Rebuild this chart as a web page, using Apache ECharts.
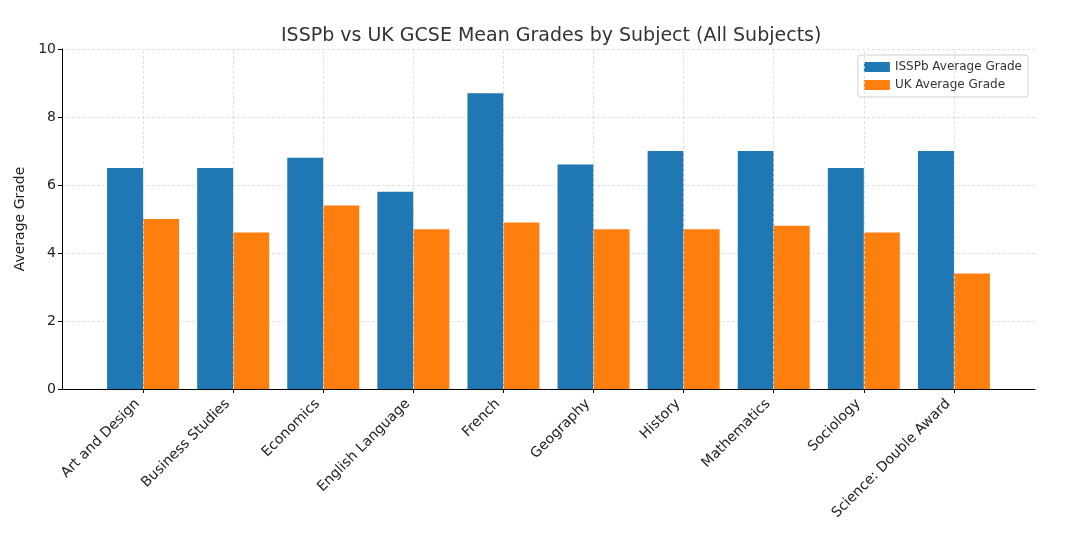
<!DOCTYPE html>
<html>
<head>
<meta charset="utf-8">
<script src="https://cdn.jsdelivr.net/npm/echarts@6/dist/echarts.min.js"></script>
<style>
  html, body { margin: 0; padding: 0; background: #fff; }
  #chart { width: 1068px; height: 546px; }
</style>
</head>
<body>
<div id="chart"></div>
<script>
// subjects and mean grades
const subjects = ['Art and Design', 'Business Studies', 'Economics', 'English Language', 'French',
  'Geography', 'History', 'Mathematics', 'Sociology', 'Science: Double Award'];
const isspbGrades = [6.5, 6.5, 6.8, 5.8, 8.7, 6.6, 7.0, 7.0, 6.5, 7.0];
const ukGrades = [5.0, 4.6, 5.4, 4.7, 4.9, 4.7, 4.7, 4.8, 4.6, 3.4];

const font = 'DejaVu Sans';
const chart = echarts.init(document.getElementById('chart'));

// bars sit on a value axis so the margins match (-0.9 .. 9.9)
const pos = subjects.map((s, i) => i);
const gridStyle = { color: '#d8d8d8', type: [3, 2], width: 0.8 };

const option = {
  animation: false,
  textStyle: { fontFamily: font },
  title: {
    text: 'ISSPb vs UK GCSE Mean Grades by Subject (All Subjects)',
    left: 276,
    top: 22,
    textStyle: { fontFamily: font, fontSize: 19, fontWeight: 'normal', color: '#333' }
  },
  legend: {
    data: ['ISSPb Average Grade', 'UK Average Grade'],
    orient: 'vertical',
    right: 40,
    top: 55,
    padding: [6, 6, 6, 6],
    itemGap: 6,
    itemWidth: 26,
    itemHeight: 10,
    borderColor: '#d0d0d0',
    borderWidth: 1,
    borderRadius: 3,
    icon: 'rect',
    textStyle: { fontFamily: font, fontSize: 12, color: '#333' }
  },
  grid: { left: 62, right: 33, top: 49, bottom: 157 },
  xAxis: {
    type: 'value',
    min: -0.9,
    max: 9.9,
    axisLine: { show: true, onZero: false, lineStyle: { color: '#000', width: 1 } },
    axisTick: { show: true, customValues: pos, length: 4, lineStyle: { color: '#000' } },
    axisLabel: {
      customValues: pos,
      rotate: 45,
      fontFamily: font,
      fontSize: 14,
      color: '#222',
      margin: 7,
      padding: [0, 8, 0, 0],
      formatter: v => subjects[Math.round(v)]
    },
    splitLine: { show: false }
  },
  yAxis: {
    type: 'value',
    min: 0,
    max: 10,
    interval: 2,
    name: 'Average Grade',
    nameLocation: 'middle',
    nameGap: 24,
    nameTextStyle: { fontFamily: font, fontSize: 14, color: '#222' },
    axisLine: { show: true, onZero: false, lineStyle: { color: '#000', width: 1 } },
    axisTick: { show: true, length: 4, lineStyle: { color: '#000' } },
    axisLabel: { fontFamily: font, fontSize: 14, color: '#222', margin: 6 },
    splitLine: { show: true, lineStyle: gridStyle }
  },
  series: [
    {
      name: 'ISSPb Average Grade',
      type: 'bar',
      barWidth: 36,
      barGap: '0%',
      itemStyle: { color: '#1f77b4' },
      data: isspbGrades.map((v, i) => [pos[i], v]),
      z: 2
    },
    {
      name: 'UK Average Grade',
      type: 'bar',
      barWidth: 36,
      barGap: '0%',
      itemStyle: { color: '#ff7f0e' },
      data: ukGrades.map((v, i) => [pos[i], v]),
      z: 2
    },
    {
      // vertical grid lines at each subject
      name: 'grid',
      type: 'scatter',
      data: [],
      silent: true,
      z: 0,
      markLine: {
        silent: true,
        symbol: 'none',
        label: { show: false },
        lineStyle: gridStyle,
        data: pos.map(p => ({ xAxis: p }))
      }
    }
  ]
};

chart.setOption(option);
</script>
</body>
</html>
